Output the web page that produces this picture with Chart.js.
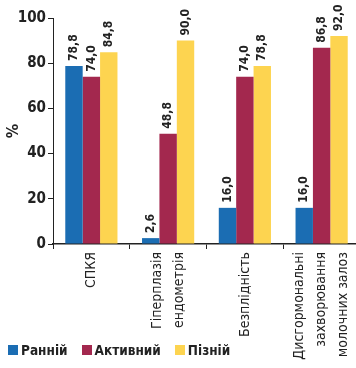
<!DOCTYPE html>
<html>
<head>
<meta charset="utf-8">
<script src="https://cdn.jsdelivr.net/npm/chart.js@4"></script>
<style>
  html, body { margin: 0; padding: 0; background: #fff; overflow: hidden; width: 356px; height: 368px; }
  #wrap { position: relative; width: 362px; height: 368px; }
  #legend { position: absolute; left: 8px; top: 342px; display: flex; font-family: "DejaVu Sans Condensed", "DejaVu Sans", sans-serif; font-size: 13.5px; font-weight: bold; color: #222; }
  #legend .item { display: flex; align-items: center; margin-right: 14px; }
  #legend .sw { width: 10px; height: 10px; margin-right: 3px; }
</style>
</head>
<body>
<div id="wrap">
  <canvas id="c" width="362" height="368"></canvas>
  <div id="legend"></div>
</div>
<script>
// Categories (multi-line labels) and series values, %
const categories = [
  ["СПКЯ"],
  ["Гіперплазія", "ендометрія"],
  ["Безплідність"],
  ["Дисгормональні", "захворювання", "молочних залоз"]
];
const seriesNames = ["Ранній", "Активний", "Пізній"];
const early  = [78.8, 2.6, 16.0, 16.0];
const active = [74.0, 48.8, 74.0, 86.8];
const late   = [84.8, 90.0, 78.8, 92.0];
const yTicks = [0, 20, 40, 60, 80, 100];

const colors = ["#1b6db3", "#a3284e", "#fdd450"];
const seriesValues = [early, active, late];

const FONT = "'DejaVu Sans Condensed', 'DejaVu Sans', sans-serif";
const fmt = v => v.toFixed(1).replace(".", ",");

// Rotated value labels above each bar
const valueLabels = {
  id: "valueLabels",
  afterDatasetsDraw(chart) {
    const ctx = chart.ctx;
    ctx.save();
    ctx.font = "bold 12px " + FONT;
    ctx.fillStyle = "#222";
    ctx.textAlign = "left";
    ctx.textBaseline = "middle";
    chart.data.datasets.forEach((ds, i) => {
      chart.getDatasetMeta(i).data.forEach((bar, j) => {
        ctx.save();
        ctx.translate(bar.x, bar.y - 5);
        ctx.rotate(-Math.PI / 2);
        ctx.fillText(fmt(ds.data[j]), 0, 0);
        ctx.restore();
      });
    });
    ctx.restore();
  }
};

// Vertical category labels, one column per line, reading bottom to top
const categoryLabels = {
  id: "categoryLabels",
  afterDraw(chart) {
    const ctx = chart.ctx;
    const xs = chart.scales.x;
    const lineGap = 22;
    ctx.save();
    ctx.font = "14px " + FONT;
    ctx.fillStyle = "#222";
    ctx.textAlign = "right";
    ctx.textBaseline = "middle";
    chart.data.labels.forEach((lines, i) => {
      const cx = xs.getPixelForTick(i);
      lines.forEach((line, k) => {
        const x = cx + (k - (lines.length - 1) / 2) * lineGap;
        ctx.save();
        ctx.translate(x, xs.top + 8);
        ctx.rotate(-Math.PI / 2);
        ctx.fillText(line, 0, 0);
        ctx.restore();
      });
    });
    ctx.restore();
  }
};

const chart = new Chart(document.getElementById("c"), {
  type: "bar",
  data: {
    labels: categories,
    datasets: seriesNames.map((name, i) => ({
      label: name,
      data: seriesValues[i],
      backgroundColor: colors[i],
      borderWidth: 0,
      categoryPercentage: 0.68,
      barPercentage: 1.0
    }))
  },
  options: {
    responsive: false,
    animation: false,
    layout: { padding: { top: 18, right: 2, left: 0, bottom: 0 } },
    plugins: { legend: { display: false }, tooltip: { enabled: false } },
    scales: {
      x: {
        grid: { display: true, drawOnChartArea: false, drawTicks: true, tickLength: 5, color: "#222", offset: true },
        border: { display: true, color: "#222", width: 1.5 },
        ticks: { display: false, autoSkip: false },
        afterFit(scale) {
          scale.height = 124;
          scale.paddingLeft = 0;
          scale.paddingRight = 0;
        }
      },
      y: {
        min: 0, max: 100,
        afterBuildTicks(scale) { scale.ticks = yTicks.map(v => ({ value: v })); },
        grid: { display: true, drawOnChartArea: false, drawTicks: true, tickLength: 5, color: "#222" },
        border: { display: true, color: "#222", width: 1 },
        ticks: {
          padding: 2, color: "#222",
          font: { family: FONT, size: 15, weight: "bold" }
        },
        title: {
          display: true, text: "%", color: "#222", padding: { top: 4, bottom: 0 },
          font: { family: FONT, size: 16, weight: "bold" }
        },
        afterFit(scale) {
          scale.width = 53;
          scale.paddingTop = 0;
          scale.paddingBottom = 0;
        }
      }
    }
  },
  plugins: [valueLabels, categoryLabels]
});

// Legend built from the chart's datasets
const legend = document.getElementById("legend");
chart.data.datasets.forEach(ds => {
  const item = document.createElement("div");
  item.className = "item";
  const sw = document.createElement("span");
  sw.className = "sw";
  sw.style.background = ds.backgroundColor;
  const txt = document.createElement("span");
  txt.textContent = ds.label;
  item.appendChild(sw);
  item.appendChild(txt);
  legend.appendChild(item);
});
</script>
</body>
</html>
